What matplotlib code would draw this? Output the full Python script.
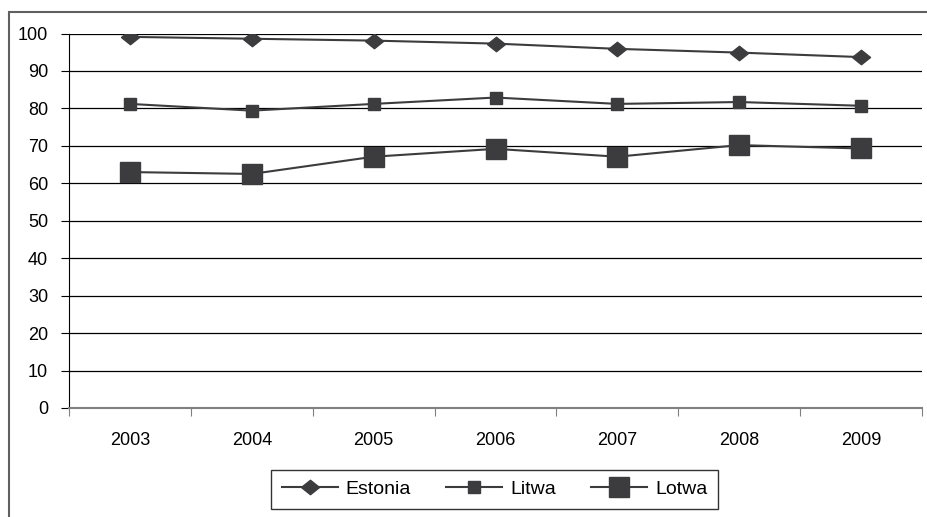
import matplotlib.pyplot as plt
from matplotlib.patches import Rectangle

plt.rcParams['font.family'] = ['Liberation Sans', 'DejaVu Sans']

lata = ["2003", "2004", "2005", "2006", "2007", "2008", "2009"]
estonia = [99.1, 98.6, 98.1, 97.3, 95.9, 94.9, 93.7]
litwa = [81.2, 79.4, 81.2, 82.9, 81.2, 81.7, 80.7]
lotwa = [63.0, 62.5, 67.1, 69.2, 67.1, 70.2, 69.3]

kolor = "#3c3c3e"
romb = [(-1, 0), (0, 0.8), (1, 0), (0, -0.8), (-1, 0)]

fig = plt.figure(figsize=(9.28, 5.17), dpi=100)
ax = fig.add_axes([69 / 928, 1 - 408 / 517, 853 / 928, (408 - 33.5) / 517])

x = list(range(len(lata)))
ax.plot(x, estonia, color=kolor, lw=1.5, marker=romb, markersize=13, label="Estonia")
ax.plot(x, litwa, color=kolor, lw=1.5, marker="s", markersize=8, label="Litwa")
ax.plot(x, lotwa, color=kolor, lw=1.5, marker="s", markersize=14, label="Lotwa")

ax.set_xlim(-0.5, len(lata) - 0.5)
ax.set_ylim(0, 100)
ax.set_yticks(range(0, 101, 10))
ax.yaxis.grid(True, color="black", lw=0.9)
ax.set_axisbelow(True)

# ticks between categories, labels in the middle
ax.set_xticks([i - 0.5 for i in range(len(lata) + 1)])
ax.set_xticklabels([])
ax.set_xticks(x, minor=True)
ax.set_xticklabels(lata, minor=True)
ax.tick_params(axis="x", which="major", length=6, color="#808080", direction="out")
ax.tick_params(axis="x", which="minor", length=0, pad=17, labelsize=13)
ax.tick_params(axis="y", length=6, color="black", labelsize=13, pad=9)

for s in ["top", "right"]:
    ax.spines[s].set_visible(False)
ax.spines["left"].set_color("black")
ax.spines["bottom"].set_color("#808080")
ax.spines["bottom"].set_linewidth(1.5)

leg = fig.legend(loc="center", bbox_to_anchor=(494.5 / 928, 1 - 489 / 517), ncol=3,
                 fontsize=14, frameon=True, fancybox=False, handlelength=2.9,
                 handletextpad=0.4, columnspacing=1.8, borderpad=0.55,
                 borderaxespad=0)
leg.get_frame().set_edgecolor("black")
leg.get_frame().set_linewidth(1.0)

# outer frame of the chart
fig.patches.append(Rectangle((9 / 928, -0.05), 1.0, 1.05 - 12 / 517,
                             transform=fig.transFigure, fill=False,
                             edgecolor="#606060", lw=1.5))

fig.savefig("out.png", dpi=100)
